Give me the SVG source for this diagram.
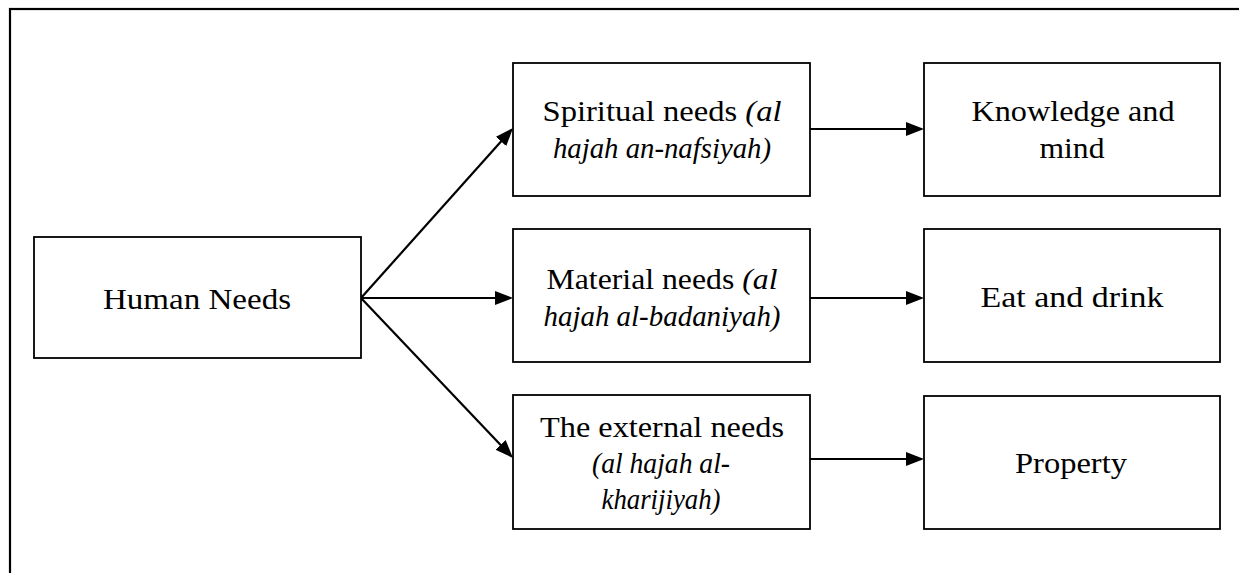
<svg xmlns="http://www.w3.org/2000/svg" width="1239" height="573" viewBox="0 0 1239 573">
<defs>
<style>
.box{fill:#fff;stroke:#000;stroke-width:1.8}
.t{font-family:"Liberation Serif","Times New Roman",serif;font-size:29px;fill:#000;text-anchor:middle}
.i{font-style:italic}
.c{stroke:#000;stroke-width:2.2;fill:none;marker-end:url(#ah)}
</style>
<marker id="ah" markerUnits="userSpaceOnUse" markerWidth="19" markerHeight="15" refX="7" refY="7" orient="auto">
<path d="M0,0 L18,7 L0,14 Z" fill="#000"/>
</marker>
</defs>
<rect width="1239" height="573" fill="#fff"/>
<rect x="10" y="9" width="1240" height="580" fill="none" stroke="#000" stroke-width="2.2"/>
<g id="connectors">
<line class="c" x1="361" y1="298" x2="505.7" y2="136.2"/>
<line class="c" x1="361" y1="298" x2="502" y2="298"/>
<line class="c" x1="361" y1="298" x2="505.4" y2="450.0"/>
<line class="c" x1="810" y1="129" x2="913" y2="129"/>
<line class="c" x1="810" y1="298" x2="913" y2="298"/>
<line class="c" x1="810" y1="459" x2="913" y2="459"/>
</g>
<g id="human-needs">
<rect class="box" x="34" y="237" width="327" height="121"/>
<text class="t" x="197" y="309" textLength="188" lengthAdjust="spacingAndGlyphs">Human Needs</text>
</g>
<g id="spiritual">
<rect class="box" x="513" y="63" width="297" height="133"/>
<text class="t" x="662" y="121" textLength="239" lengthAdjust="spacingAndGlyphs">Spiritual needs <tspan class="i">(al</tspan></text>
<text class="t i" x="662" y="158" textLength="218" lengthAdjust="spacingAndGlyphs">hajah an-nafsiyah)</text>
</g>
<g id="material">
<rect class="box" x="513" y="229" width="297" height="133"/>
<text class="t" x="662" y="289" textLength="231" lengthAdjust="spacingAndGlyphs">Material needs <tspan class="i">(al</tspan></text>
<text class="t i" x="662" y="326" textLength="237" lengthAdjust="spacingAndGlyphs">hajah al-badaniyah)</text>
</g>
<g id="external">
<rect class="box" x="513" y="395" width="297" height="134"/>
<text class="t" x="662" y="437" textLength="244" lengthAdjust="spacingAndGlyphs">The external needs</text>
<text class="t i" x="661" y="473" textLength="138" lengthAdjust="spacingAndGlyphs">(al hajah al-</text>
<text class="t i" x="661" y="509" textLength="119" lengthAdjust="spacingAndGlyphs">kharijiyah)</text>
</g>
<g id="knowledge">
<rect class="box" x="924" y="63" width="296" height="133"/>
<text class="t" x="1073" y="121" textLength="203" lengthAdjust="spacingAndGlyphs">Knowledge and</text>
<text class="t" x="1072" y="158" textLength="65" lengthAdjust="spacingAndGlyphs">mind</text>
</g>
<g id="eat-drink">
<rect class="box" x="924" y="229" width="296" height="133"/>
<text class="t" x="1072" y="307" textLength="183" lengthAdjust="spacingAndGlyphs">Eat and drink</text>
</g>
<g id="property">
<rect class="box" x="924" y="396" width="296" height="133"/>
<text class="t" x="1071" y="473" textLength="112" lengthAdjust="spacingAndGlyphs">Property</text>
</g>
</svg>
